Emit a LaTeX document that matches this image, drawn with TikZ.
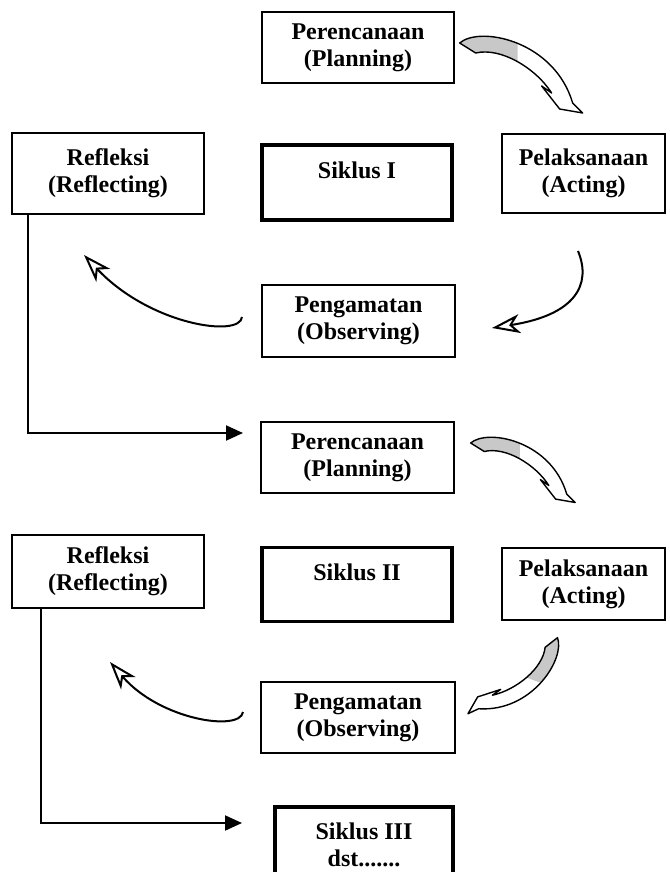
\documentclass[tikz,border=0pt]{standalone}
\usepackage{fontspec}
\setmainfont{Liberation Serif}
\usetikzlibrary{arrows.meta,positioning}
\definecolor{shadegray}{RGB}{200,200,200}

\newcommand{\bentpath}{(0,0) .. controls (20,-17) and (90,-3) .. (111,54) -- (113,60) -- (123,70) -- (100,66) -- (82,43) -- (92,50) .. controls (76,25) and (41,4) .. (16,10) -- cycle}

\tikzset{
  bentarrow/.pic={
    \fill[white] \bentpath;
    \begin{scope}
      \clip (-10,-30) rectangle (58,30);
      \fill[shadegray] \bentpath;
    \end{scope}
    \draw[line width=1.4pt, line join=round] \bentpath;
  }
}

\begin{document}
\begin{tikzpicture}[
    x=1pt, y=-1pt,
    stage/.style={draw, line width=1.3pt, inner sep=0pt, align=center, font=\bfseries\fontsize{24}{27}\selectfont, execute at begin node={\rule{0pt}{27pt}}},
    cyclebox/.style={draw, line width=3.5pt, inner sep=0pt, align=center, font=\bfseries\fontsize{24}{27}\selectfont},
    cycletop/.style={cyclebox, text depth=24pt},
    flow/.style={line width=2pt, -{Triangle[length=17pt,width=15pt]}},
    turn/.style={line width=2pt, -{Stealth[length=28pt,width=19pt,inset=8pt,fill=white]}}
]
\useasboundingbox (0,0) rectangle (669,872);

\node[stage, minimum width=192pt, minimum height=71pt] (plan1) at (358,47.5) {Perencanaan\\(Planning)};
\node[stage, minimum width=192pt, minimum height=81pt] (refl1) at (108,173.5) {Refleksi\\(Reflecting)};
\node[cycletop, minimum width=190pt, minimum height=75pt] (cyc1) at (357,182.5) {Siklus I};
\node[stage, minimum width=163pt, minimum height=79pt] (act1) at (583.5,173.5) {Pelaksanaan\\(Acting)};
\node[stage, minimum width=193pt, minimum height=72pt] (obs1) at (358.5,321) {Pengamatan\\(Observing)};

\node[stage, minimum width=193pt, minimum height=71pt] (plan2) at (357.5,457.5) {Perencanaan\\(Planning)};
\node[stage, minimum width=192pt, minimum height=73pt] (refl2) at (108,571.5) {Refleksi\\(Reflecting)};
\node[cycletop, minimum width=190pt, minimum height=74pt] (cyc2) at (357,584.5) {Siklus II};
\node[stage, minimum width=163pt, minimum height=72pt] (act2) at (583.5,584) {Pelaksanaan\\(Acting)};
\node[stage, minimum width=194pt, minimum height=71pt] (obs2) at (358,717.5) {Pengamatan\\(Observing)};

\node[cyclebox, minimum width=178pt, minimum height=76pt] (cyc3) at (364,845) {Siklus III\\dst.......};

\pic at ([shift={(5,-4.5)}]plan1.east) {bentarrow};
\pic[scale=0.85] at ([shift={(16,-14.5)}]plan2.east) {bentarrow};
\pic[scale=0.83, rotate=-110] at ([shift={(-26,17)}]act2.south) {bentarrow};

\coordinate (act1out) at (578,251);
\coordinate (obs1in) at (492,328);
\coordinate (obs1out) at (242,317);
\coordinate (refl1in) at (84,255);
\coordinate (obs2out) at (243,712);
\coordinate (refl2in) at (110,662);
\draw[turn] (act1out) .. controls (592,285) and (575,315) .. (obs1in);
\draw[turn] (obs1out) .. controls (240,338) and (150,325) .. (refl1in);
\draw[turn] (obs2out) .. controls (240,732) and (160,720) .. (refl2in);

\coordinate (plan2in) at (243,433);
\coordinate (cyc3in) at (242,823);
\draw[flow] ([xshift=17pt]refl1.south west) |- (plan2in);
\draw[flow] ([xshift=30pt]refl2.south west) |- (cyc3in);
\end{tikzpicture}
\end{document}
